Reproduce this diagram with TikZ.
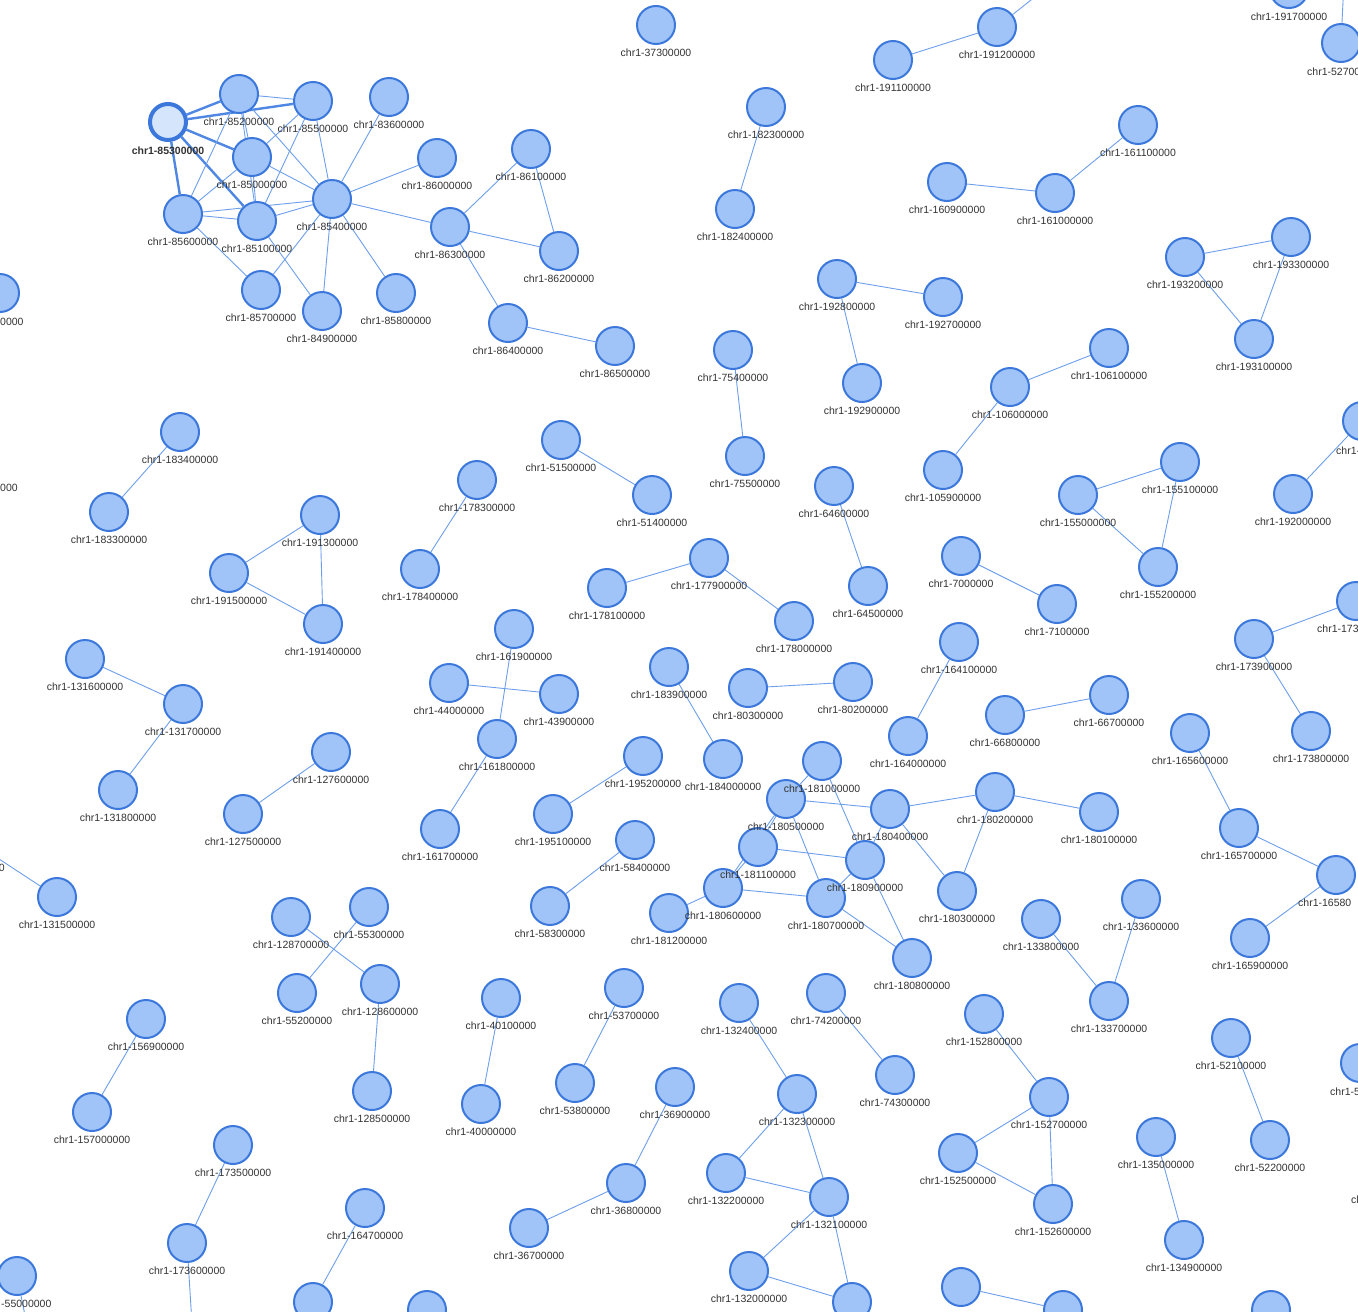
\documentclass[tikz,border=0pt]{standalone}
\usepackage{fontspec}
\setmainfont{Liberation Sans}
\usetikzlibrary{backgrounds}
\definecolor{nfill}{HTML}{A0C4F7}
\definecolor{nborder}{HTML}{3C78DC}
\definecolor{edgec}{HTML}{6E9FEC}
\definecolor{thkc}{HTML}{4F87E2}
\definecolor{hfill}{HTML}{D5E5FC}
\definecolor{labc}{HTML}{333333}
\tikzset{
  nd/.style={circle, fill=nfill, draw=nborder, line width=2pt, minimum size=38pt, inner sep=0pt},
  hnd/.style={nd, fill=hfill, line width=4pt, minimum size=36pt},
  lab/.style={font=\fontsize{10.5}{12}\selectfont, text=labc, inner sep=0pt},
  ed/.style={draw=edgec, line width=0.9pt},
  thk/.style={draw=thkc, line width=2.4pt},
}
\def\nodelist{85200000/239/94, 85500000/313/101, 83600000/389/97, 85000000/252/157, 86000000/437/158, 85600000/183/214, 85100000/257/221, 85400000/332/199, 86300000/450/227, 86100000/531/149, 86200000/559/251, 85700000/261/290, 84900000/322/311, 85800000/396/293, 86400000/508/323, 86500000/615/346, 37300000/656/25, 191100000/893/60, 191200000/997/27, 191700000/1289/-11, 182300000/766/107, 182400000/735/209, 161100000/1138/125, 160900000/947/182, 161000000/1055/193, 193300000/1291/237, 193200000/1185/257, 193100000/1254/339, 192800000/837/279, 192700000/943/297, 192900000/862/383, 75400000/733/350, 75500000/745/456, 106100000/1109/348, 106000000/1010/387, 105900000/943/470, 192000000/1293/494, 155100000/1180/462, 155000000/1078/495, 155200000/1158/567, 183400000/180/432, 183300000/109/512, 51500000/561/440, 51400000/652/495, 178300000/477/480, 178400000/420/569, 64600000/834/486, 64500000/868/586, 191300000/320/515, 191500000/229/573, 191400000/323/624, 177900000/709/558, 178100000/607/588, 178000000/794/621, 7000000/961/556, 7100000/1057/604, 173900000/1254/639, 173800000/1311/731, 164100000/959/642, 164000000/908/736, 161900000/514/629, 161800000/497/739, 161700000/440/829, 44000000/449/683, 43900000/559/694, 183900000/669/667, 184000000/723/759, 80300000/748/688, 80200000/853/682, 66800000/1005/715, 66700000/1109/695, 165600000/1190/733, 165700000/1239/828, 165900000/1250/938, 131600000/85/659, 131700000/183/704, 131800000/118/790, 127600000/331/752, 127500000/243/814, 195200000/643/756, 195100000/553/814, 131500000/57/897, 58400000/635/840, 58300000/550/906, 181000000/822/761, 180500000/786/799, 180400000/890/809, 180200000/995/792, 180100000/1099/812, 181100000/758/847, 180900000/865/860, 180300000/957/891, 180600000/723/888, 181200000/669/913, 180700000/826/898, 180800000/912/958, 133600000/1141/899, 133800000/1041/919, 133700000/1109/1001, 128700000/291/917, 55300000/369/907, 55200000/297/993, 128600000/380/984, 128500000/372/1091, 156900000/146/1019, 157000000/92/1112, 40100000/501/998, 40000000/481/1104, 53700000/624/988, 53800000/575/1083, 132400000/739/1003, 132300000/797/1094, 74200000/826/993, 74300000/895/1075, 152800000/984/1014, 152700000/1049/1097, 152500000/958/1153, 152600000/1053/1204, 52100000/1231/1038, 52200000/1270/1140, 36900000/675/1087, 36800000/626/1183, 36700000/529/1228, 173500000/233/1145, 173600000/187/1243, 164700000/365/1208, 132200000/726/1173, 132100000/829/1197, 132000000/749/1271, 135000000/1156/1137, 134900000/1184/1240}
\def\partlist{52700000/1341/43, 165800000/1336/875, 55000000/17/1276, A/0/293, R1/1362/421, R2/1356/601, R3/1360/1063, B1/313/1302, B2/427/1310, B3/852/1302, B4/961/1287, B5/1063/1310, B6/1271/1310}
\begin{document}
\begin{tikzpicture}[x=1pt,y=-1pt]
\useasboundingbox (0,0) rectangle (1358,1312);
\begin{pgfonlayer}{background}
\fill[white] (-50,-50) rectangle (1408,1362);
\end{pgfonlayer}
% nodes
\node[hnd] (n85300000) at (168,122) {};
\foreach \n/\x/\y in \nodelist { \node[nd] (n\n) at (\x,\y) {}; }
\foreach \n/\x/\y in \partlist { \node[nd] (n\n) at (\x,\y) {}; }
\coordinate (nO1) at (1075,-35);
\coordinate (nO2) at (1345,-40);
\coordinate (nO3) at (193,1340);
\coordinate (nO4) at (30,1340);
\coordinate (nL3) at (-30,840);
% edges
\begin{pgfonlayer}{background}
\foreach \a/\b in {85300000/85200000, 85300000/85500000, 85300000/85000000, 85300000/85600000, 85300000/85100000}
  { \draw[thk] (n\a) -- (n\b); }
\foreach \a/\b in {85200000/85500000, 85200000/85000000, 85200000/85100000, 85200000/85400000, 85200000/85600000, 85500000/85000000, 85500000/85100000, 85500000/85400000, 85000000/85400000, 85000000/85600000, 85000000/85100000, 85600000/85100000, 85600000/85400000, 85100000/85400000, 85600000/85700000, 85100000/84900000, 85400000/85700000, 85400000/84900000, 85400000/85800000, 85400000/83600000, 85400000/86000000, 85400000/86300000, 86300000/86100000, 86300000/86200000, 86100000/86200000, 86300000/86400000, 86400000/86500000,
191100000/191200000, 191200000/O1, 52700000/O2, 182300000/182400000, 161100000/161000000, 160900000/161000000, 193200000/193300000, 193200000/193100000, 193300000/193100000, 192800000/192700000, 192800000/192900000, 75400000/75500000, 106000000/106100000, 106000000/105900000, R1/192000000, 155000000/155100000, 155100000/155200000, 155000000/155200000, 183400000/183300000, 51500000/51400000, 178300000/178400000, 64600000/64500000, 191500000/191300000, 191300000/191400000, 191500000/191400000, 178100000/177900000, 177900000/178000000, 7000000/7100000, R2/173900000, 173900000/173800000, 164100000/164000000, 161900000/161800000, 161800000/161700000, 44000000/43900000, 183900000/184000000, 80300000/80200000, 66800000/66700000, 165600000/165700000, 165700000/165800000, 165800000/165900000, 131600000/131700000, 131700000/131800000, 127600000/127500000, 195200000/195100000, L3/131500000, 58400000/58300000,
181000000/180500000, 181000000/180900000, 180500000/180400000, 180500000/181100000, 180500000/180600000, 180500000/180700000, 180400000/180200000, 180400000/180900000, 180400000/180300000, 180200000/180100000, 180200000/180300000, 181100000/180900000, 181100000/180600000, 181200000/180600000, 180600000/180700000, 180700000/180900000, 180700000/180800000, 180900000/180800000,
133800000/133700000, 133600000/133700000, 128700000/128600000, 55300000/55200000, 128600000/128500000, 156900000/157000000, 40100000/40000000, 53700000/53800000, 132400000/132300000, 74200000/74300000, 152800000/152700000, 152700000/152500000, 152700000/152600000, 152500000/152600000, 52100000/52200000, 36900000/36800000, 36800000/36700000, 173500000/173600000, 173600000/O3, 164700000/B1, 132300000/132200000, 132300000/132100000, 132200000/132100000, 132100000/132000000, 132100000/B3, 132000000/B3, 135000000/134900000, 55000000/O4, B4/B5}
  { \draw[ed] (n\a) -- (n\b); }
\end{pgfonlayer}
% labels
\node[lab, font=\fontsize{10.5}{12}\selectfont\bfseries] (l85300000) at (168,151) {chr1-85300000};
\foreach \n/\x/\y in \nodelist { \node[lab] (l\n) at (\x,\y+28) {chr1-\n}; }
\node[lab, anchor=west] (l52700000) at (1307,72) {chr1-52700};
\node[lab, anchor=west] (l165800000) at (1298,903) {chr1-16580};
\node[lab, anchor=west] (l55000000) at (1,1304) {-55000000};
\node[lab, anchor=west] (lA) at (0,322) {0000};
\node[lab, anchor=west] (lL2) at (0,488) {000};
\node[lab, anchor=east] (lL3) at (5,868) {0};
\node[lab, anchor=west] (lR1) at (1336,451) {chr1-};
\node[lab, anchor=west] (lR2) at (1317,629) {chr1-173};
\node[lab, anchor=west] (lR3) at (1330,1092) {chr1-5};
\node[lab, anchor=west] (lR4) at (1351,1200) {cl};
\end{tikzpicture}
\end{document}
